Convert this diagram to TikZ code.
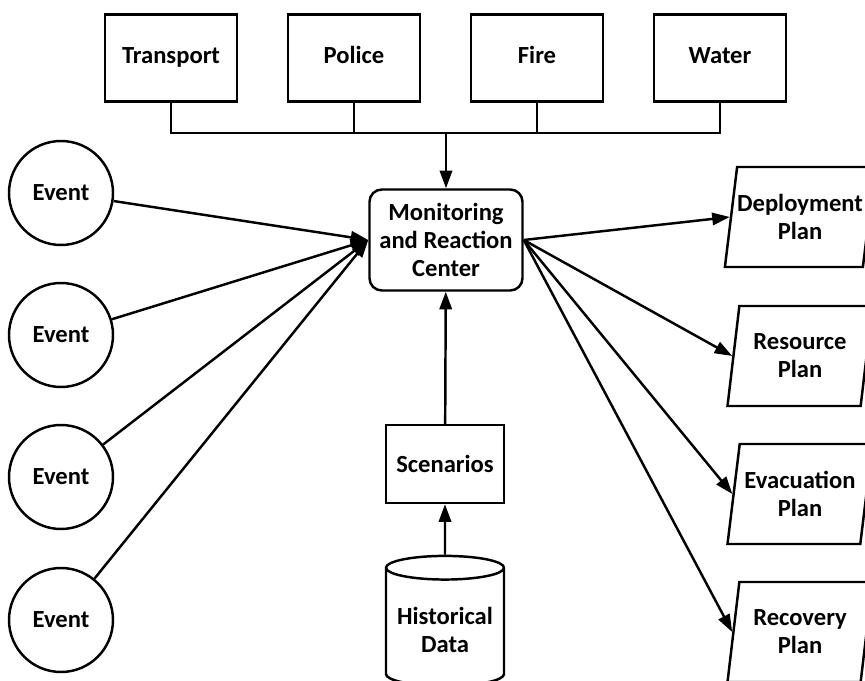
\documentclass[tikz,border=0pt]{standalone}
\usepackage{fontspec}
\setmainfont{Carlito}
\usetikzlibrary{shapes.geometric}
\usetikzlibrary{arrows.meta}

\begin{document}
\begin{tikzpicture}[
        font=\fontsize{14}{16}\selectfont\bfseries,
        line width=1.4pt,
        box/.style={draw, minimum width=2.64cm, minimum height=1.74cm,
            text height=1.5ex, text depth=0.3ex},
        event/.style={draw, circle, minimum size=2.08cm},
        plan/.style={draw, trapezium, trapezium left angle=75, trapezium right angle=105,
            trapezium stretches body=true, minimum width=2.9cm, minimum height=2cm,
            align=center, inner sep=0pt},
        link/.style={-{Triangle[length=10pt,width=7pt]}}
    ]
        \useasboundingbox (0, 0) rectangle (17.3, 13.6);

        % agencies on top
        \node[box] (trans) at (3.42, 12.44) {Transport};
        \node[box] (police) at (7.08, 12.44) {Police};
        \node[box] (fire) at (10.74, 12.44) {Fire};
        \node[box] (water) at (14.40, 12.44) {Water};

        \node[draw, rounded corners=7pt, minimum width=3.06cm, minimum height=2.02cm, align=center]
            (mon) at (8.92, 8.8) {Monitoring\\and Reaction\\Center};

        \node[event] (ev1) at (1.22, 9.74) {Event};
        \node[event] (ev2) at (1.22, 6.90) {Event};
        \node[event] (ev3) at (1.22, 4.06) {Event};
        \node[event] (ev4) at (1.22, 1.20) {Event};

        \node[plan] (dep) at (16.0, 9.26) {Deployment\\Plan};
        \node[plan] (res) at (16.0, 6.48) {Resource\\Plan};
        \node[plan] (evac) at (16.0, 3.72) {Evacuation\\Plan};
        \node[plan] (rec) at (16.0, 0.96) {Recovery\\Plan};

        \node[draw, minimum width=2.36cm, minimum height=1.56cm] (scen) at (8.9, 4.32) {Scenarios};
        \node[draw, cylinder, shape border rotate=90, aspect=0.22, minimum width=2.36cm,
            minimum height=2.6cm, align=center] (hist) at (8.9, 1.0) {Historical\\Data};

        % bus from the agencies
        \coordinate (bus) at (8.92, 10.94);
        \draw (trans.south) |- (bus) -| (water.south);
        \draw (police.south) -- (police.south |- bus);
        \draw (fire.south) -- (fire.south |- bus);
        \draw[link] (bus) -- (mon.north);

        \draw[link] (ev1) -- (mon.west);
        \draw[link] (ev2) -- (mon.west);
        \draw[link] (ev3) -- (mon.west);
        \draw[link] (ev4) -- (mon.west);

        \draw[link] (mon.east) -- (dep.west);
        \draw[link] (mon.east) -- (res.west);
        \draw[link] (mon.east) -- (evac.west);
        \draw[link] (mon.east) -- (rec.west);

        \draw[link] (hist) -- (scen);
        \draw[link] (scen) -- (mon);
\end{tikzpicture}
\end{document}
